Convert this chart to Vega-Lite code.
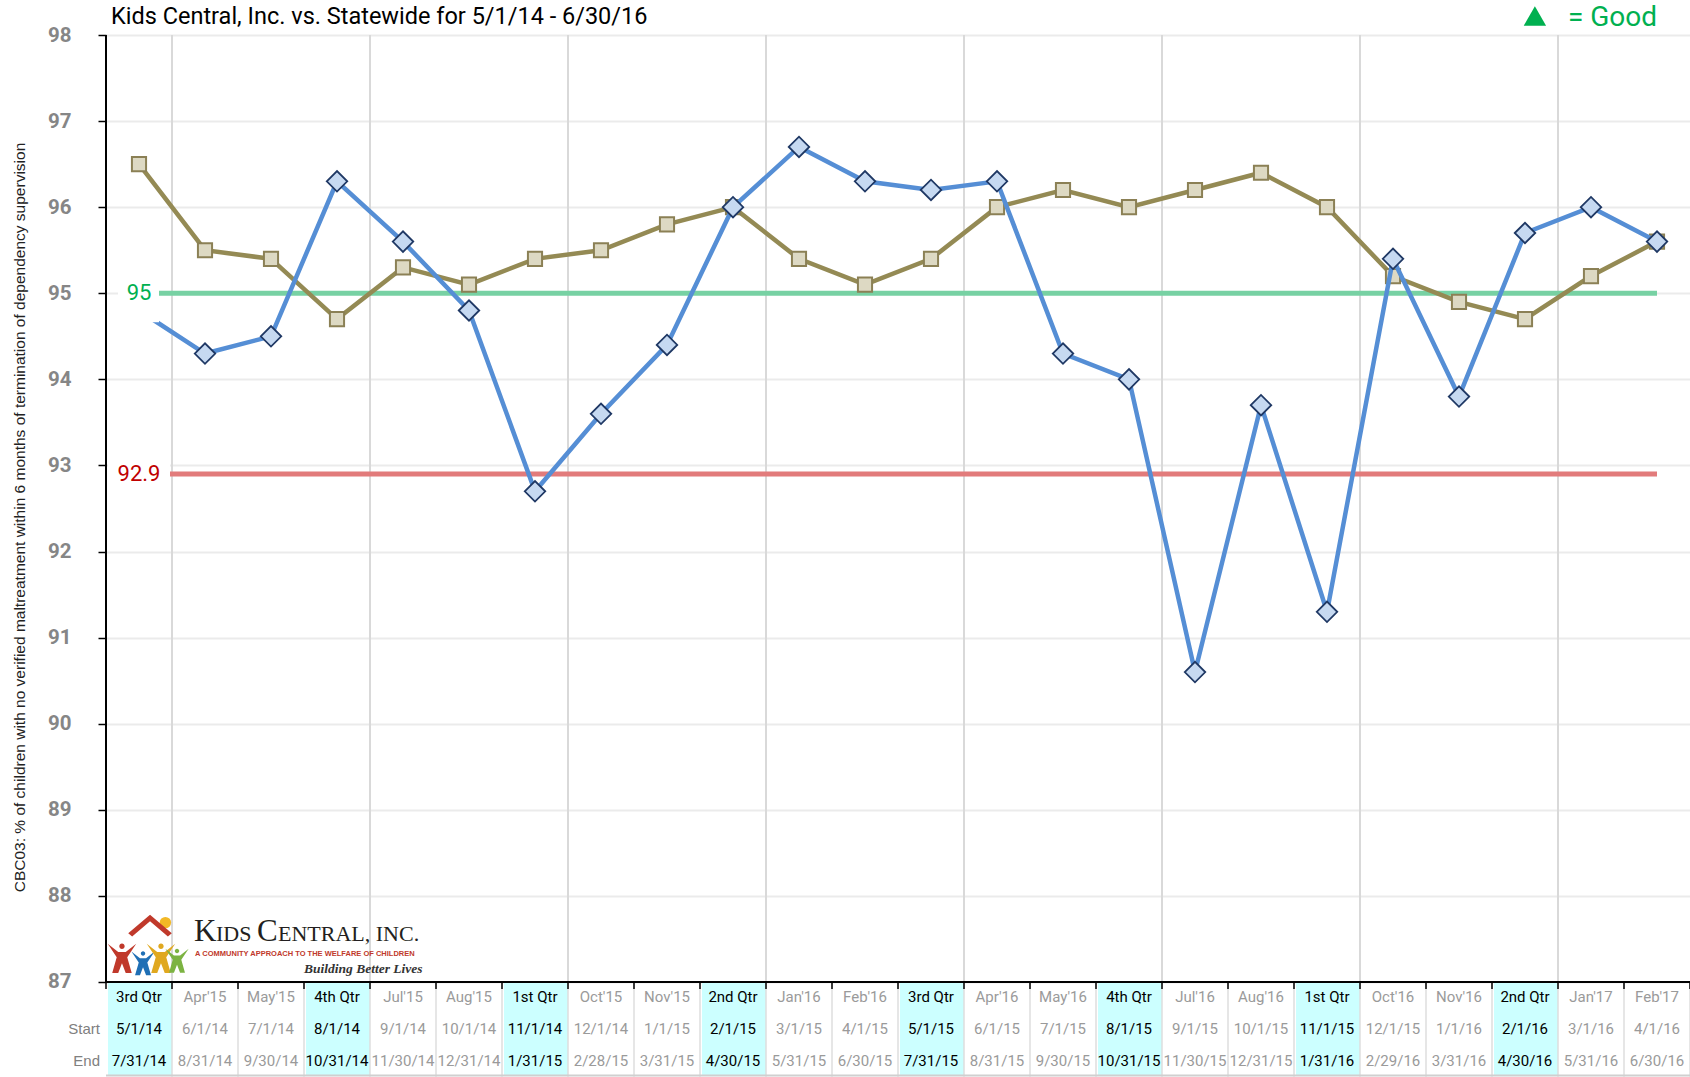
{
  "$schema": "https://vega.github.io/schema/vega-lite/v6.json",
  "width": 1584,
  "height": 1042,
  "autosize": "none",
  "padding": {"left": 106, "top": 35, "right": 0, "bottom": 0},
  "background": "white",
  "config": {"view": {"stroke": null}, "font": "Roboto"},
  "resolve": {"axis": {"x": "independent", "y": "independent"}},
  "data": {"values": [
    {"col": 1, "label": "3rd Qtr", "start": "5/1/14", "end": "7/31/14", "q": true, "kc": 94.8, "sw": 96.5},
    {"col": 2, "label": "Apr'15", "start": "6/1/14", "end": "8/31/14", "q": false, "kc": 94.3, "sw": 95.5},
    {"col": 3, "label": "May'15", "start": "7/1/14", "end": "9/30/14", "q": false, "kc": 94.5, "sw": 95.4},
    {"col": 4, "label": "4th Qtr", "start": "8/1/14", "end": "10/31/14", "q": true, "kc": 96.3, "sw": 94.7},
    {"col": 5, "label": "Jul'15", "start": "9/1/14", "end": "11/30/14", "q": false, "kc": 95.6, "sw": 95.3},
    {"col": 6, "label": "Aug'15", "start": "10/1/14", "end": "12/31/14", "q": false, "kc": 94.8, "sw": 95.1},
    {"col": 7, "label": "1st Qtr", "start": "11/1/14", "end": "1/31/15", "q": true, "kc": 92.7, "sw": 95.4},
    {"col": 8, "label": "Oct'15", "start": "12/1/14", "end": "2/28/15", "q": false, "kc": 93.6, "sw": 95.5},
    {"col": 9, "label": "Nov'15", "start": "1/1/15", "end": "3/31/15", "q": false, "kc": 94.4, "sw": 95.8},
    {"col": 10, "label": "2nd Qtr", "start": "2/1/15", "end": "4/30/15", "q": true, "kc": 96.0, "sw": 96.0},
    {"col": 11, "label": "Jan'16", "start": "3/1/15", "end": "5/31/15", "q": false, "kc": 96.7, "sw": 95.4},
    {"col": 12, "label": "Feb'16", "start": "4/1/15", "end": "6/30/15", "q": false, "kc": 96.3, "sw": 95.1},
    {"col": 13, "label": "3rd Qtr", "start": "5/1/15", "end": "7/31/15", "q": true, "kc": 96.2, "sw": 95.4},
    {"col": 14, "label": "Apr'16", "start": "6/1/15", "end": "8/31/15", "q": false, "kc": 96.3, "sw": 96.0},
    {"col": 15, "label": "May'16", "start": "7/1/15", "end": "9/30/15", "q": false, "kc": 94.3, "sw": 96.2},
    {"col": 16, "label": "4th Qtr", "start": "8/1/15", "end": "10/31/15", "q": true, "kc": 94.0, "sw": 96.0},
    {"col": 17, "label": "Jul'16", "start": "9/1/15", "end": "11/30/15", "q": false, "kc": 90.6, "sw": 96.2},
    {"col": 18, "label": "Aug'16", "start": "10/1/15", "end": "12/31/15", "q": false, "kc": 93.7, "sw": 96.4},
    {"col": 19, "label": "1st Qtr", "start": "11/1/15", "end": "1/31/16", "q": true, "kc": 91.3, "sw": 96.0},
    {"col": 20, "label": "Oct'16", "start": "12/1/15", "end": "2/29/16", "q": false, "kc": 95.4, "sw": 95.2},
    {"col": 21, "label": "Nov'16", "start": "1/1/16", "end": "3/31/16", "q": false, "kc": 93.8, "sw": 94.9},
    {"col": 22, "label": "2nd Qtr", "start": "2/1/16", "end": "4/30/16", "q": true, "kc": 95.7, "sw": 94.7},
    {"col": 23, "label": "Jan'17", "start": "3/1/16", "end": "5/31/16", "q": false, "kc": 96.0, "sw": 95.2},
    {"col": 24, "label": "Feb'17", "start": "4/1/16", "end": "6/30/16", "q": false, "kc": 95.6, "sw": 95.6}
  ]},
  "layer": [
    {
      "transform": [{"filter": "datum.q && datum.col < 24"}],
      "mark": {"type": "rule", "color": "#d9d9d9", "strokeWidth": 2, "xOffset": 33},
      "encoding": {
        "x": {"field": "col", "type": "quantitative", "scale": {"domain": [0.5, 24.5], "nice": false, "zero": false}, "axis": null},
        "y": {"datum": 87, "type": "quantitative", "scale": {"domain": [85.8965, 98], "nice": false, "zero": false}, "axis": null},
        "y2": {"datum": 98}
      }
    },
    {
      "data": {"values": [{"v": 95}]},
      "mark": {"type": "rule", "color": "#77d1a3", "strokeWidth": 5},
      "encoding": {
        "x": {"datum": 1, "type": "quantitative", "axis": null},
        "x2": {"datum": 24},
        "y": {"field": "v", "type": "quantitative", "axis": null}
      }
    },
    {
      "data": {"values": [{"v": 92.9}]},
      "mark": {"type": "rule", "color": "#e27b7b", "strokeWidth": 5},
      "encoding": {
        "x": {"datum": 1, "type": "quantitative", "axis": null},
        "x2": {"datum": 24},
        "y": {"field": "v", "type": "quantitative", "axis": null}
      }
    },
    {
      "mark": {"type": "line", "color": "#948a54", "strokeWidth": 4.5,
        "point": {"shape": "square", "size": 200, "filled": true, "fill": "#ddd9c3", "stroke": "#8b8055", "strokeWidth": 2, "opacity": 1}},
      "encoding": {
        "x": {"field": "col", "type": "quantitative", "axis": null},
        "y": {"field": "sw", "type": "quantitative",
          "scale": {"domain": [85.8965, 98], "nice": false, "zero": false},
          "axis": {
            "values": [87, 88, 89, 90, 91, 92, 93, 94, 95, 96, 97, 98],
            "domain": false, "tickSize": 8, "tickColor": "#000000", "tickWidth": 1.5,
            "labelFont": "Roboto", "labelFontSize": 20.5, "labelFontWeight": "bold", "labelColor": "#868686",
            "labelPadding": 27, "grid": true, "gridColor": "#ebebeb", "gridWidth": 2,
            "title": "CBC03: % of children with no verified maltreatment within 6 months of termination of dependency supervision",
            "titleFont": "Liberation Sans", "titleFontSize": 15.5, "titleFontWeight": "normal", "titleColor": "#222222",
            "titleX": -87, "titleY": 482, "titleAngle": -90, "titleAlign": "center", "titleBaseline": "middle"
          }
        }
      }
    },
    {
      "mark": {"type": "line", "color": "#558ed5", "strokeWidth": 4.5,
        "point": {"shape": "diamond", "size": 420, "filled": true, "fill": "#c6d9f1", "stroke": "#1f3864", "strokeWidth": 1.8, "opacity": 1}},
      "encoding": {
        "x": {"field": "col", "type": "quantitative", "axis": null},
        "y": {"field": "kc", "type": "quantitative", "axis": null}
      }
    },
    {
      "data": {"values": [{"v": 95, "t": "95"}]},
      "mark": {"type": "rect", "color": "white", "xOffset": -21, "x2Offset": 20, "yOffset": -22, "y2Offset": 29},
      "encoding": {
        "x": {"datum": 1, "type": "quantitative", "axis": null},
        "x2": {"datum": 1},
        "y": {"field": "v", "type": "quantitative", "axis": null},
        "y2": {"field": "v"}
      }
    },
    {
      "data": {"values": [{"v": 92.9, "t": "92.9"}]},
      "mark": {"type": "rect", "color": "white", "xOffset": -31, "x2Offset": 31, "yOffset": -22, "y2Offset": 22},
      "encoding": {
        "x": {"datum": 1, "type": "quantitative", "axis": null},
        "x2": {"datum": 1},
        "y": {"field": "v", "type": "quantitative", "axis": null},
        "y2": {"field": "v"}
      }
    },
    {
      "data": {"values": [{"v": 95, "t": "95"}]},
      "mark": {"type": "text", "color": "#00b050", "font": "Roboto", "fontSize": 22, "align": "center", "baseline": "middle"},
      "encoding": {
        "x": {"datum": 1, "type": "quantitative", "axis": null},
        "y": {"field": "v", "type": "quantitative", "axis": null},
        "text": {"field": "t"}
      }
    },
    {
      "data": {"values": [{"v": 92.9, "t": "92.9"}]},
      "mark": {"type": "text", "color": "#c00000", "font": "Roboto", "fontSize": 22, "align": "center", "baseline": "middle"},
      "encoding": {
        "x": {"datum": 1, "type": "quantitative", "axis": null},
        "y": {"field": "v", "type": "quantitative", "axis": null},
        "text": {"field": "t"}
      }
    },
    {
      "transform": [{"filter": "datum.q"}],
      "mark": {"type": "rect", "color": "#ccffff", "xOffset": -31, "x2Offset": 33},
      "encoding": {
        "x": {"field": "col", "type": "quantitative", "axis": null},
        "x2": {"field": "col"},
        "y": {"datum": 87, "type": "quantitative", "axis": null},
        "y2": {"datum": 85.92}
      }
    },
    {
      "mark": {"type": "rule", "color": "#dedede", "strokeWidth": 1.5, "xOffset": 33},
      "encoding": {
        "x": {"field": "col", "type": "quantitative", "axis": null},
        "y": {"datum": 87, "type": "quantitative", "axis": null},
        "y2": {"datum": 85.9}
      }
    },
    {
      "data": {"values": [{"k": 1}]},
      "mark": {"type": "rule", "color": "#d0d0d0", "strokeWidth": 2},
      "encoding": {
        "x": {"datum": 0.5, "type": "quantitative", "axis": null},
        "x2": {"datum": 24.5},
        "y": {"datum": 85.915, "type": "quantitative", "axis": null}
      }
    },
    {
      "mark": {"type": "text", "font": "Roboto", "fontSize": 15, "align": "center", "baseline": "middle"},
      "encoding": {
        "x": {"field": "col", "type": "quantitative", "axis": null},
        "y": {"datum": 86.82, "type": "quantitative", "axis": null},
        "text": {"field": "label"},
        "color": {"condition": {"test": "datum.q", "value": "#000000"}, "value": "#9a9a9a"}
      }
    },
    {
      "mark": {"type": "text", "font": "Roboto", "fontSize": 15, "align": "center", "baseline": "middle"},
      "encoding": {
        "x": {"field": "col", "type": "quantitative", "axis": null},
        "y": {"datum": 86.454, "type": "quantitative", "axis": null},
        "text": {"field": "start"},
        "color": {"condition": {"test": "datum.q", "value": "#000000"}, "value": "#9a9a9a"}
      }
    },
    {
      "mark": {"type": "text", "font": "Roboto", "fontSize": 15, "align": "center", "baseline": "middle"},
      "encoding": {
        "x": {"field": "col", "type": "quantitative", "axis": null},
        "y": {"datum": 86.082, "type": "quantitative", "axis": null},
        "text": {"field": "end"},
        "color": {"condition": {"test": "datum.q", "value": "#000000"}, "value": "#9a9a9a"}
      }
    },
    {
      "data": {"values": [{"t": "Start"}]},
      "mark": {"type": "text", "font": "Liberation Sans", "fontSize": 15, "align": "right", "baseline": "middle", "dx": -6, "color": "#808080"},
      "encoding": {
        "x": {"datum": 0.5, "type": "quantitative", "axis": null},
        "y": {"datum": 86.454, "type": "quantitative", "axis": null},
        "text": {"field": "t"}
      }
    },
    {
      "data": {"values": [{"t": "End"}]},
      "mark": {"type": "text", "font": "Liberation Sans", "fontSize": 15, "align": "right", "baseline": "middle", "dx": -6, "color": "#808080"},
      "encoding": {
        "x": {"datum": 0.5, "type": "quantitative", "axis": null},
        "y": {"datum": 86.082, "type": "quantitative", "axis": null},
        "text": {"field": "t"}
      }
    },
    {
      "data": {"values": [{"k": 1}]},
      "mark": {"type": "rule", "color": "#000000", "strokeWidth": 2},
      "encoding": {
        "x": {"datum": 0.5, "type": "quantitative", "axis": null},
        "x2": {"datum": 24.5},
        "y": {"datum": 87, "type": "quantitative", "axis": null}
      }
    },
    {
      "data": {"values": [{"k": 1}]},
      "mark": {"type": "rule", "color": "#000000", "strokeWidth": 2},
      "encoding": {
        "x": {"datum": 0.5, "type": "quantitative", "axis": null},
        "y": {"datum": 87, "type": "quantitative", "axis": null},
        "y2": {"datum": 98}
      }
    },
    {
      "mark": {"type": "rule", "color": "#000000", "strokeWidth": 1.5, "xOffset": 33, "y2Offset": 7},
      "encoding": {
        "x": {"field": "col", "type": "quantitative", "axis": null},
        "y": {"datum": 87, "type": "quantitative", "axis": null},
        "y2": {"datum": 87}
      }
    },
    {
      "data": {"values": [{"k": 1}]},
      "mark": {"type": "rule", "color": "#000000", "strokeWidth": 1.5, "y2Offset": 7},
      "encoding": {
        "x": {"datum": 0.5, "type": "quantitative", "axis": null},
        "y": {"datum": 87, "type": "quantitative", "axis": null},
        "y2": {"datum": 87}
      }
    },
    {
      "data": {"values": [{"k": 1}]},
      "mark": {"type": "point", "shape": "circle", "filled": true, "color": "#f2b826", "size": 130, "opacity": 1},
      "encoding": {
        "x": {"datum": 1.40, "type": "quantitative", "axis": null},
        "y": {"datum": 87.69, "type": "quantitative", "axis": null}
      }
    },
    {
      "data": {"values": [{"k": 1}]},
      "mark": {"type": "point", "shape": "M-1,0.25 L0,-0.6 L1,0.25 L0.82,0.4 L0,-0.3 L-0.82,0.4 Z", "filled": true, "color": "#c0392b", "size": 1900, "opacity": 1},
      "encoding": {
        "x": {"datum": 1.167, "type": "quantitative", "axis": null},
        "y": {"datum": 87.63, "type": "quantitative", "axis": null}
      }
    },
    {
      "data": {"values": [{"k": 1}]},
      "mark": {"type": "point", "shape": "M-0.18,-0.78 A0.18,0.18 0 1,1 0.18,-0.78 A0.18,0.18 0 1,1 -0.18,-0.78 Z M-0.95,-0.95 L-0.25,-0.4 L0.25,-0.4 L0.95,-0.95 L0.35,-0.05 L0.65,1 L0.25,1 L0,0.35 L-0.25,1 L-0.65,1 L-0.35,-0.05 Z", "filled": true, "color": "#c0392b", "size": 900, "opacity": 1},
      "encoding": {
        "x": {"datum": 0.742, "type": "quantitative", "axis": null},
        "y": {"datum": 87.28, "type": "quantitative", "axis": null}
      }
    },
    {
      "data": {"values": [{"k": 1}]},
      "mark": {"type": "point", "shape": "M-0.18,-0.78 A0.18,0.18 0 1,1 0.18,-0.78 A0.18,0.18 0 1,1 -0.18,-0.78 Z M-0.95,-0.95 L-0.25,-0.4 L0.25,-0.4 L0.95,-0.95 L0.35,-0.05 L0.65,1 L0.25,1 L0,0.35 L-0.25,1 L-0.65,1 L-0.35,-0.05 Z", "filled": true, "color": "#1f6fb5", "size": 600, "opacity": 1},
      "encoding": {
        "x": {"datum": 1.061, "type": "quantitative", "axis": null},
        "y": {"datum": 87.22, "type": "quantitative", "axis": null}
      }
    },
    {
      "data": {"values": [{"k": 1}]},
      "mark": {"type": "point", "shape": "M-0.18,-0.78 A0.18,0.18 0 1,1 0.18,-0.78 A0.18,0.18 0 1,1 -0.18,-0.78 Z M-0.95,-0.95 L-0.25,-0.4 L0.25,-0.4 L0.95,-0.95 L0.35,-0.05 L0.65,1 L0.25,1 L0,0.35 L-0.25,1 L-0.65,1 L-0.35,-0.05 Z", "filled": true, "color": "#e0a820", "size": 900, "opacity": 1},
      "encoding": {
        "x": {"datum": 1.333, "type": "quantitative", "axis": null},
        "y": {"datum": 87.28, "type": "quantitative", "axis": null}
      }
    },
    {
      "data": {"values": [{"k": 1}]},
      "mark": {"type": "point", "shape": "M-0.18,-0.78 A0.18,0.18 0 1,1 0.18,-0.78 A0.18,0.18 0 1,1 -0.18,-0.78 Z M-0.95,-0.95 L-0.25,-0.4 L0.25,-0.4 L0.95,-0.95 L0.35,-0.05 L0.65,1 L0.25,1 L0,0.35 L-0.25,1 L-0.65,1 L-0.35,-0.05 Z", "filled": true, "color": "#7cb342", "size": 600, "opacity": 1},
      "encoding": {
        "x": {"datum": 1.576, "type": "quantitative", "axis": null},
        "y": {"datum": 87.25, "type": "quantitative", "axis": null}
      }
    },
    {
      "data": {"values": [{"t": "K"}]},
      "mark": {"type": "text", "font": "Liberation Serif", "fontSize": 31, "align": "left", "baseline": "alphabetic", "color": "#231f20"},
      "encoding": {
        "x": {"datum": 1.833, "type": "quantitative", "axis": null},
        "y": {"datum": 87.476, "type": "quantitative", "axis": null},
        "text": {"field": "t"}
      }
    },
    {
      "data": {"values": [{"t": "IDS"}]},
      "mark": {"type": "text", "font": "Liberation Serif", "fontSize": 22, "align": "left", "baseline": "alphabetic", "color": "#231f20", "dx": 22},
      "encoding": {
        "x": {"datum": 1.833, "type": "quantitative", "axis": null},
        "y": {"datum": 87.476, "type": "quantitative", "axis": null},
        "text": {"field": "t"}
      }
    },
    {
      "data": {"values": [{"t": "C"}]},
      "mark": {"type": "text", "font": "Liberation Serif", "fontSize": 31, "align": "left", "baseline": "alphabetic", "color": "#231f20", "dx": 63},
      "encoding": {
        "x": {"datum": 1.833, "type": "quantitative", "axis": null},
        "y": {"datum": 87.476, "type": "quantitative", "axis": null},
        "text": {"field": "t"}
      }
    },
    {
      "data": {"values": [{"t": "ENTRAL, INC."}]},
      "mark": {"type": "text", "font": "Liberation Serif", "fontSize": 22, "align": "left", "baseline": "alphabetic", "color": "#231f20", "dx": 84},
      "encoding": {
        "x": {"datum": 1.833, "type": "quantitative", "axis": null},
        "y": {"datum": 87.476, "type": "quantitative", "axis": null},
        "text": {"field": "t"}
      }
    },
    {
      "data": {"values": [{"t": "A COMMUNITY APPROACH TO THE WELFARE OF CHILDREN"}]},
      "mark": {"type": "text", "font": "Liberation Sans", "fontSize": 7.5, "fontWeight": "bold", "align": "left", "baseline": "alphabetic", "color": "#c0392b"},
      "encoding": {
        "x": {"datum": 1.85, "type": "quantitative", "axis": null},
        "y": {"datum": 87.302, "type": "quantitative", "axis": null},
        "text": {"field": "t"}
      }
    },
    {
      "data": {"values": [{"t": "Building Better Lives"}]},
      "mark": {"type": "text", "font": "Liberation Serif", "fontSize": 13.5, "fontWeight": "bold", "fontStyle": "italic", "align": "right", "baseline": "alphabetic", "color": "#333333"},
      "encoding": {
        "x": {"datum": 5.297, "type": "quantitative", "axis": null},
        "y": {"datum": 87.105, "type": "quantitative", "axis": null},
        "text": {"field": "t"}
      }
    },
    {
      "data": {"values": [{"t": "Kids Central, Inc. vs. Statewide for 5/1/14 - 6/30/16"}]},
      "mark": {"type": "text", "font": "Roboto", "fontSize": 23.5, "align": "left", "baseline": "alphabetic", "color": "#000000", "dx": 5, "dy": -11},
      "encoding": {
        "x": {"datum": 0.5, "type": "quantitative", "axis": null},
        "y": {"datum": 98, "type": "quantitative", "axis": null},
        "text": {"field": "t"}
      }
    },
    {
      "data": {"values": [{"k": 1}]},
      "mark": {"type": "point", "shape": "triangle-up", "filled": true, "color": "#00b050", "size": 500, "opacity": 1, "yOffset": -19},
      "encoding": {
        "x": {"datum": 22.15, "type": "quantitative", "axis": null},
        "y": {"datum": 98, "type": "quantitative", "axis": null}
      }
    },
    {
      "data": {"values": [{"t": "= Good"}]},
      "mark": {"type": "text", "font": "Roboto", "fontSize": 28, "align": "right", "baseline": "alphabetic", "color": "#00b050", "dx": -33, "dy": -9},
      "encoding": {
        "x": {"datum": 24.5, "type": "quantitative", "axis": null},
        "y": {"datum": 98, "type": "quantitative", "axis": null},
        "text": {"field": "t"}
      }
    }
  ]
}
